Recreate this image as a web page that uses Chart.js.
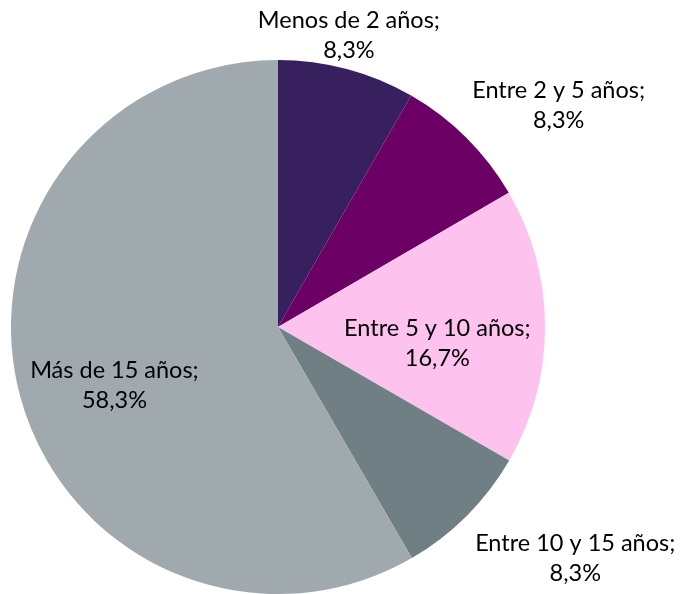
<!DOCTYPE html>
<html><head><meta charset="utf-8">
<script src="https://cdn.jsdelivr.net/npm/chart.js@4"></script>
<style>html,body{margin:0;padding:0;background:#fff}#wrap{width:680px;height:594px}</style>
</head><body><div id="wrap"><canvas id="c" width="680" height="594"></canvas></div>
<script>
const categories = ["Menos de 2 años", "Entre 2 y 5 años", "Entre 5 y 10 años", "Entre 10 y 15 años", "Más de 15 años"];
const values = [8.3, 8.3, 16.7, 8.3, 58.3];
const valueLabels = ["8,3%", "8,3%", "16,7%", "8,3%", "58,3%"];
const colors = ["#38205e", "#6c0064", "#fdc3ee", "#6f7f84", "#a0aaae"];
// label placement: radius factor (of outer radius) and angle tweak (deg)
const labelRadius = [1.125, 1.34, 0.6, 1.41, 0.65];
const labelAngleAdj = [-1.3, 6.8, 6, -7.1, -4.5];

const labelPlugin = {
  id: 'labels',
  afterDatasetsDraw(chart) {
    const ctx = chart.ctx;
    const meta = chart.getDatasetMeta(0);
    ctx.save();
    ctx.font = '23.5px Lato, "Open Sans", sans-serif';
    ctx.fillStyle = '#000';
    ctx.textAlign = 'center';
    ctx.textBaseline = 'middle';
    meta.data.forEach((arc, i) => {
      const mid = (arc.startAngle + arc.endAngle) / 2 + labelAngleAdj[i] * Math.PI / 180;
      const r = arc.outerRadius * labelRadius[i];
      const x = arc.x + Math.cos(mid) * r;
      const y = arc.y + Math.sin(mid) * r;
      ctx.fillText(categories[i] + ';', x, y - 15);
      ctx.fillText(valueLabels[i], x, y + 15);
    });
    ctx.restore();
  }
};

new Chart(document.getElementById('c'), {
  type: 'pie',
  data: { labels: categories, datasets: [{ data: values, backgroundColor: colors, borderWidth: 0 }] },
  options: {
    responsive: false, animation: false,
    layout: { padding: { left: 11, right: 135, top: 60, bottom: 0 } },
    plugins: { legend: { display: false }, tooltip: { enabled: false } }
  },
  plugins: [labelPlugin]
});
</script></body></html>
